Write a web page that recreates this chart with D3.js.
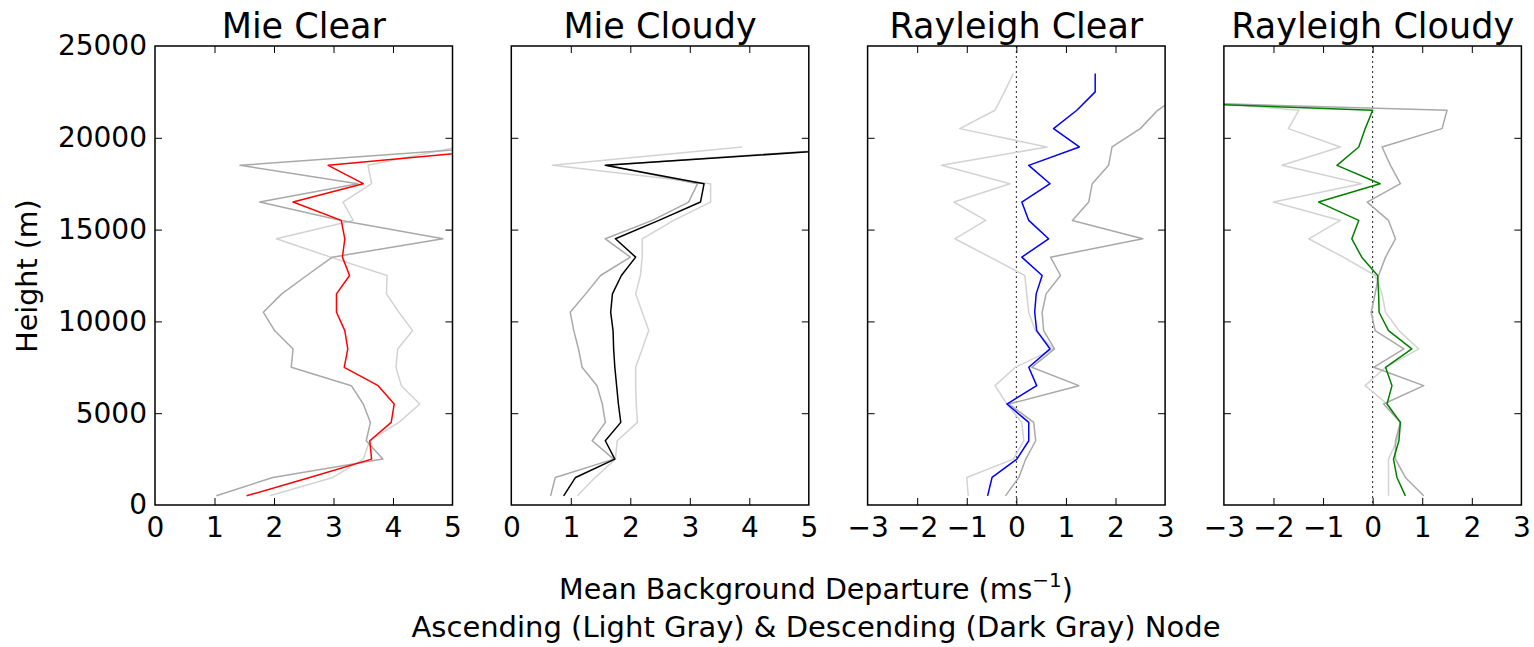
<!DOCTYPE html>
<html>
<head>
<meta charset="utf-8">
<script src="https://cdn.jsdelivr.net/npm/d3@7"></script>
<style>
  body { margin: 0; background: #fff; }
  svg text { font-family: "DejaVu Sans", sans-serif; fill: #000; }
</style>
</head>
<body>
<svg id="chart" width="1534" height="647"></svg>
<script>
// Height levels (m) of each profile point
const heightsMie = [500, 1500, 2500, 3500, 4500, 5500, 6500, 7500, 8500, 9500,
  10500, 11500, 12500, 13500, 14500, 15500, 16500, 17500, 18500, 19500];
const heightsRay = [500, 1500, 2500, 3500, 4500, 5500, 6500, 7500, 8500, 9500,
  10500, 11500, 12500, 13500, 14500, 15500, 16500, 17500, 18500, 19500,
  20500, 21500, 22500, 23500];

// Mie Clear: ascending node, descending node, all
const mieClearAsc  = [1.93, 2.99, 3.50, 3.61, 4.10, 4.45, 4.14, 4.05, 4.08, 4.33,
  4.10, 3.89, 3.90, 2.95, 2.04, 3.33, 3.16, 3.64, 3.58, 5.10];
const mieClearDesc = [1.03, 1.98, 3.83, 3.55, 3.62, 3.50, 3.30, 2.29, 2.32, 2.01,
  1.82, 2.13, 2.55, 2.98, 4.84, 3.13, 1.76, 3.41, 1.43, 5.70];
const mieClearAll  = [1.54, 2.60, 3.64, 3.61, 3.97, 4.02, 3.75, 3.18, 3.24, 3.19,
  3.05, 3.05, 3.27, 3.15, 3.19, 3.13, 2.32, 3.50, 2.91, 6.20];

// Mie Cloudy
const mieCloudyAsc  = [1.11, 1.41, 1.75, 1.78, 2.12, 2.10, 2.09, 2.09, 2.20, 2.31,
  2.20, 2.09, 2.17, 2.20, 2.20, 2.73, 3.35, 3.35, 0.69, 3.88];
const mieCloudyDesc = [0.66, 0.74, 1.72, 1.36, 1.58, 1.53, 1.44, 1.19, 1.13, 1.05,
  0.99, 1.25, 1.50, 2.00, 1.58, 2.37, 2.98, 3.13, 1.60, 6.00];
const mieCloudyAll  = [0.88, 1.08, 1.74, 1.58, 1.84, 1.80, 1.77, 1.74, 1.72, 1.71,
  1.67, 1.70, 1.85, 2.09, 1.75, 2.48, 3.18, 3.24, 1.58, 6.20];

// Rayleigh Clear
const rayClearAsc  = [-0.97, -1.00, -0.06, 0.15, 0.11, -0.19, -0.43, -0.02, 0.75, 0.38,
  0.25, 0.21, 0.17, -0.53, -1.24, -0.62, -1.26, -0.13, -1.51, 0.62,
  -1.14, -0.43, -0.24, -0.06];
const rayClearDesc = [-0.22, 0.05, 0.19, 0.39, 0.35, -0.15, 1.26, 0.31, 0.77, 0.55,
  0.52, 0.60, 0.89, 0.69, 2.55, 1.13, 1.46, 1.53, 1.86, 1.93,
  2.50, 2.85, 3.40, null];
const rayClearAll  = [-0.58, -0.49, 0.01, 0.25, 0.25, -0.19, 0.41, 0.25, 0.68, 0.41,
  0.37, 0.40, 0.52, 0.11, 0.65, 0.25, 0.11, 0.68, 0.25, 1.27,
  0.75, 1.22, 1.59, 1.59];

// Rayleigh Cloudy
const rayCloudyAsc  = [0.32, 0.32, 0.32, 0.49, 0.56, 0.29, -0.15, 0.26, 0.93, 0.53,
  0.26, 0.19, 0.05, -0.59, -1.29, -0.65, -2.00, -0.22, -1.83, -0.65,
  -1.70, -1.49, -5.70, null];
const rayCloudyDesc = [1.03, 0.66, 0.46, 0.46, 0.56, 0.22, 1.03, 0.02, 0.63, 0.05,
  -0.03, 0.05, 0.12, 0.26, 0.46, 0.32, -0.11, 0.56, 0.36, 0.19,
  1.40, 1.50, -11.40, null];
const rayCloudyAll  = [0.66, 0.49, 0.42, 0.53, 0.56, 0.29, 0.39, 0.26, 0.79, 0.32,
  0.13, 0.12, 0.10, -0.22, -0.42, -0.28, -1.09, 0.15, -0.72, -0.28,
  -0.15, 0.00, -10.00, null];

const titles = ["Mie Clear", "Mie Cloudy", "Rayleigh Clear", "Rayleigh Cloudy"];
const mieXTicks = [0, 1, 2, 3, 4, 5];
const rayXTicks = [-3, -2, -1, 0, 1, 2, 3];
const yTicks = [0, 5000, 10000, 15000, 20000, 25000];

const panels = [
  { title: titles[0], heights: heightsMie, domain: [0, 5], ticks: mieXTicks,
    asc: mieClearAsc, desc: mieClearDesc, all: mieClearAll, color: "#ff0000", zero: false },
  { title: titles[1], heights: heightsMie, domain: [0, 5], ticks: mieXTicks,
    asc: mieCloudyAsc, desc: mieCloudyDesc, all: mieCloudyAll, color: "#000000", zero: false },
  { title: titles[2], heights: heightsRay, domain: [-3, 3], ticks: rayXTicks,
    asc: rayClearAsc, desc: rayClearDesc, all: rayClearAll, color: "#0000ff", zero: true },
  { title: titles[3], heights: heightsRay, domain: [-3, 3], ticks: rayXTicks,
    asc: rayCloudyAsc, desc: rayCloudyDesc, all: rayCloudyAll, color: "#008000", zero: true }
];

const svg = d3.select("#chart");
const plotTop = 46, plotBottom = 505, panelW = 297.5, step = 356.3, left0 = 155;
const tickLen = 7;
const tickFont = 28;
const fmtMinus = d => String(d).replace("-", "\u2212");

const y = d3.scaleLinear().domain([0, 25000]).range([plotBottom, plotTop]);

panels.forEach((p, i) => {
  const x0 = left0 + i * step;
  const x = d3.scaleLinear().domain(p.domain).range([x0, x0 + panelW]);
  const g = svg.append("g");

  const clipId = "clip" + i;
  svg.append("clipPath").attr("id", clipId).append("rect")
    .attr("x", x0).attr("y", plotTop).attr("width", panelW).attr("height", plotBottom - plotTop);

  const plot = g.append("g").attr("clip-path", `url(#${clipId})`);

  if (p.zero) {
    plot.append("line")
      .attr("x1", x(0)).attr("x2", x(0)).attr("y1", plotTop).attr("y2", plotBottom)
      .attr("stroke", "#222").attr("stroke-width", 1).attr("stroke-dasharray", "2,3");
  }

  const line = d3.line()
    .defined(d => d.v != null)
    .x(d => x(d.v))
    .y(d => y(d.h));
  const toPts = vals => p.heights.map((h, k) => ({ h, v: vals[k] === undefined ? null : vals[k] }));

  [[p.asc, "#d3d3d3"], [p.desc, "#a9a9a9"], [p.all, p.color]].forEach(([vals, col]) => {
    plot.append("path")
      .datum(toPts(vals))
      .attr("d", line)
      .attr("fill", "none")
      .attr("stroke", col)
      .attr("stroke-width", 1.5)
      .attr("stroke-linejoin", "round");
  });

  // axes with inward ticks on all four sides
  const axB = g.append("g").attr("transform", `translate(0,${plotBottom})`)
    .call(d3.axisBottom(x).tickValues(p.ticks).tickSizeInner(-tickLen).tickSizeOuter(0)
      .tickPadding(12).tickFormat(fmtMinus));
  const axT = g.append("g").attr("transform", `translate(0,${plotTop})`)
    .call(d3.axisTop(x).tickValues(p.ticks).tickSizeInner(-tickLen).tickSizeOuter(0).tickFormat(""));
  const axL = g.append("g").attr("transform", `translate(${x0},0)`)
    .call(d3.axisLeft(y).tickValues(yTicks).tickSizeInner(-tickLen).tickSizeOuter(0)
      .tickPadding(8).tickFormat(i === 0 ? d3.format("d") : ""));
  const axR = g.append("g").attr("transform", `translate(${x0 + panelW},0)`)
    .call(d3.axisRight(y).tickValues(yTicks).tickSizeInner(-tickLen).tickSizeOuter(0).tickFormat(""));

  [axB, axT, axL, axR].forEach(a => {
    a.select(".domain").remove();
    a.selectAll(".tick line").attr("stroke", "#000").attr("stroke-width", 1);
    a.selectAll(".tick text").attr("font-size", tickFont).attr("font-family", "DejaVu Sans").attr("fill", "#000");
  });
  // drop the end ticks that fall on the frame corners
  [axB, axT].forEach(a => a.selectAll(".tick").filter(d => d === p.domain[0] || d === p.domain[1]).select("line").remove());
  [axL, axR].forEach(a => a.selectAll(".tick").filter(d => d === 0 || d === 25000).select("line").remove());

  g.append("rect")
    .attr("x", x0).attr("y", plotTop).attr("width", panelW).attr("height", plotBottom - plotTop)
    .attr("fill", "none").attr("stroke", "#000").attr("stroke-width", 1.5);

  g.append("text")
    .attr("x", x0 + panelW / 2).attr("y", 38)
    .attr("text-anchor", "middle").attr("font-size", 35)
    .text(p.title);
});

// Axis titles
svg.append("text")
  .attr("transform", "translate(37,276) rotate(-90)")
  .attr("text-anchor", "middle").attr("font-size", 28.5)
  .text("Height (m)");

const xl = svg.append("text")
  .attr("x", 816).attr("y", 599).attr("text-anchor", "middle").attr("font-size", 28.5);
xl.append("tspan").text("Mean Background Departure (ms");
xl.append("tspan").attr("baseline-shift", "super").attr("font-size", 20).text("\u22121");
xl.append("tspan").text(")");

svg.append("text")
  .attr("x", 816).attr("y", 637).attr("text-anchor", "middle").attr("font-size", 29)
  .text("Ascending (Light Gray) & Descending (Dark Gray) Node");
</script>
</body>
</html>
